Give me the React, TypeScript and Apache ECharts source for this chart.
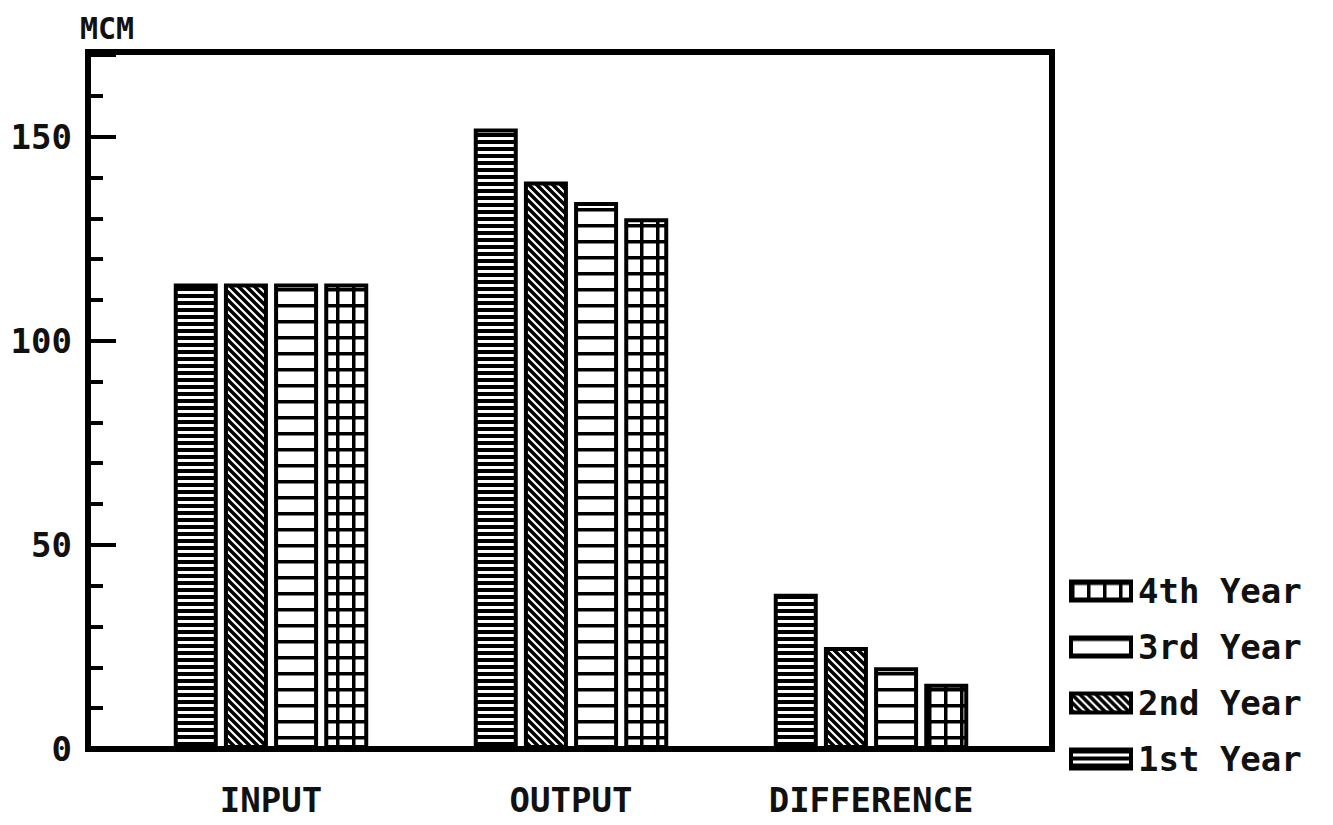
import React, { useEffect, useRef } from "react";
import * as echarts from "echarts";

const categories = ["INPUT", "OUTPUT", "DIFFERENCE"];
const seriesNames = ["1st Year", "2nd Year", "3rd Year", "4th Year"];
const year1 = [114, 152, 38];
const year2 = [114, 139, 25];
const year3 = [114, 134, 20];
const year4 = [114, 130, 16];
const legendOrder = ["4th Year", "3rd Year", "2nd Year", "1st Year"];
const yAxisName = "MCM";

const FONT = "'DejaVu Sans Mono', monospace";

function makeTile(w: number, h: number, draw: (ctx: CanvasRenderingContext2D) => void) {
  const c = document.createElement("canvas");
  c.width = w;
  c.height = h;
  const ctx = c.getContext("2d")!;
  ctx.fillStyle = "#fff";
  ctx.fillRect(0, 0, w, h);
  ctx.fillStyle = "#000";
  ctx.strokeStyle = "#000";
  draw(ctx);
  return c;
}

export default function App() {
  const ref = useRef<HTMLDivElement>(null);
  useEffect(() => {
    if (!ref.current) return;
    const chart = echarts.init(ref.current, null, { renderer: "svg" });

    const denseH = makeTile(8, 7, (ctx) => ctx.fillRect(0, 0, 8, 4));
    const diag = makeTile(8, 8, (ctx) => {
      ctx.lineWidth = 3.5;
      for (const k of [-8, 0, 8]) {
        ctx.beginPath();
        ctx.moveTo(k - 2, -2);
        ctx.lineTo(k + 10, 10);
        ctx.stroke();
      }
    });
    const sparseH = makeTile(8, 16, (ctx) => ctx.fillRect(0, 0, 8, 3.5));
    const gridT = makeTile(16, 16, (ctx) => {
      ctx.fillRect(0, 0, 16, 3.5);
      ctx.fillRect(0, 0, 3.5, 16);
    });
    const patterns = [denseH, diag, sparseH, gridT];
    const values = [year1, year2, year3, year4];

    chart.setOption({
      animation: false,
      backgroundColor: "#fff",
      grid: { left: 121, right: 312, top: 55, bottom: 76 },
      legend: {
        orient: "vertical",
        left: 1064,
        top: 566,
        data: legendOrder,
        icon: "rect",
        itemWidth: 60,
        itemHeight: 19,
        itemGap: 16,
        itemStyle: { borderColor: "#000", borderWidth: 4 },
        textStyle: { fontSize: 34, fontFamily: FONT, fontWeight: "bold", color: "#111", lineHeight: 40, padding: [0, 0, 0, 2] },
      },
      xAxis: {
        type: "category",
        data: categories,
        axisLine: { show: false },
        axisTick: { show: false },
        axisLabel: { fontSize: 34, fontFamily: FONT, fontWeight: "bold", color: "#111", margin: 34 },
      },
      yAxis: {
        type: "value",
        min: 0,
        max: 170,
        interval: 50,
        offset: 33,
        name: yAxisName,
        nameLocation: "end",
        nameGap: 27,
        nameTextStyle: { fontSize: 30, fontFamily: FONT, fontWeight: "bold", color: "#111", align: "left", verticalAlign: "middle", padding: [0, 0, 0, -8] },
        axisLine: { show: true, lineStyle: { color: "#000", width: 6 } },
        axisTick: { show: true, inside: true, length: 28, lineStyle: { color: "#000", width: 4 } },
        minorTick: { show: true, splitNumber: 5, length: 15, lineStyle: { color: "#000", width: 4 } },
        splitLine: { show: false },
        axisLabel: { fontSize: 34, fontFamily: FONT, fontWeight: "bold", color: "#111", margin: 16, showMaxLabel: false },
      },
      series: seriesNames.map((name, i) => ({
        name,
        type: "bar",
        data: values[i],
        barWidth: 44,
        barGap: "14%",
        itemStyle: {
          color: { image: patterns[i], repeat: "repeat" },
          borderColor: "#000",
          borderWidth: 4,
        },
      })),
      graphic: [
        {
          type: "rect",
          z: 100,
          shape: { x: 88, y: 52, width: 964, height: 697 },
          style: { fill: "none", stroke: "#000", lineWidth: 6 },
        },
      ],
    });
    return () => chart.dispose();
  }, []);
  return <div ref={ref} style={{ position: "fixed", left: 0, top: 0, width: 1333, height: 825 }} />;
}
